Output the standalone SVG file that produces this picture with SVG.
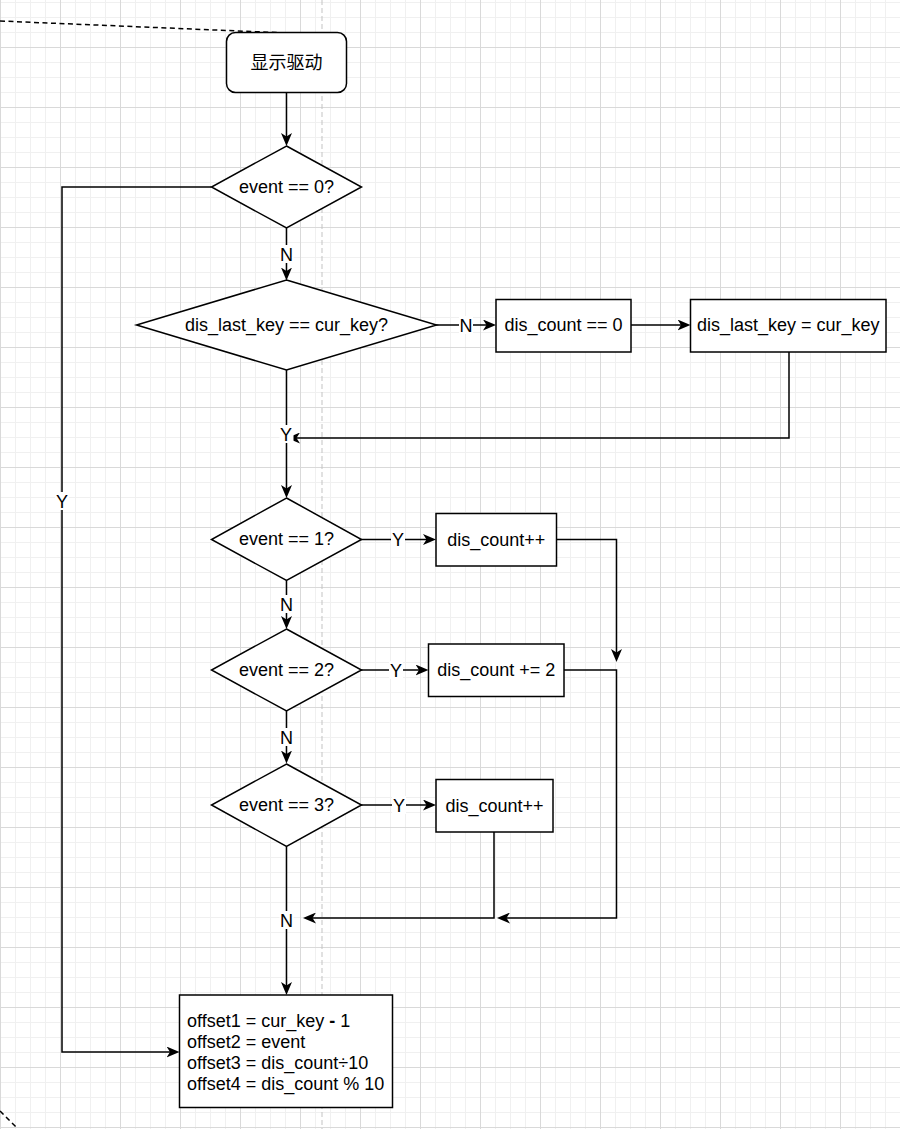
<svg xmlns="http://www.w3.org/2000/svg" width="900" height="1129" viewBox="0 0 900 1129">
<style>
.t{font-family:"Liberation Sans",Arial,"Noto Sans CJK SC",sans-serif;font-size:18px;fill:#000;}
.c{text-anchor:middle;}
.shape{fill:#fff;stroke:#000;stroke-width:1.5;}
.edge{fill:none;stroke:#000;stroke-width:1.5;}
.lbg{fill:#fff;}
</style>
<defs>
<pattern id="grid" x="0" y="-13" width="60" height="60" patternUnits="userSpaceOnUse">
<rect x="0" y="0" width="60" height="60" fill="#fff"/>
<g fill="#f0f0f0">
<rect x="15" y="0" width="1" height="60"/><rect x="30" y="0" width="1" height="60"/><rect x="45" y="0" width="1" height="60"/>
<rect x="0" y="15" width="60" height="1"/><rect x="0" y="30" width="60" height="1"/><rect x="0" y="45" width="60" height="1"/>
</g>
<g fill="#d9d9d9">
<rect x="0" y="0" width="1" height="60"/><rect x="0" y="0" width="60" height="1"/>
</g>
</pattern>
<marker id="arr" viewBox="0 0 13 11" markerWidth="13" markerHeight="11" refX="9" refY="5.5" orient="auto" markerUnits="userSpaceOnUse">
<path d="M0,0 L13,5.5 L0,11 L3.5,5.5 Z" fill="#000"/>
</marker>
</defs>
<rect x="0" y="0" width="900" height="1129" fill="url(#grid)"/>
<line x1="322" y1="0" x2="322" y2="1129" stroke="#c3c3c3" stroke-width="1" stroke-dasharray="5 3"/>
<line x1="0" y1="21" x2="287" y2="33" stroke="#000" stroke-width="1.5" stroke-dasharray="5 3.5"/>
<line x1="0" y1="1111" x2="18" y2="1129" stroke="#000" stroke-width="1.5" stroke-dasharray="5 3.5"/>

<g id="connectors">
<path class="edge" d="M286.5,92.5 V142" marker-end="url(#arr)"/>
<path class="edge" d="M286.5,228 V276.5" marker-end="url(#arr)"/>
<path class="edge" d="M436,325 H492" marker-end="url(#arr)"/>
<path class="edge" d="M631,325 H686.5" marker-end="url(#arr)"/>
<path class="edge" d="M789,352 V438 H291" marker-end="url(#arr)"/>
<path class="edge" d="M286.5,370 V494" marker-end="url(#arr)"/>
<path class="edge" d="M361,539.5 H432" marker-end="url(#arr)"/>
<path class="edge" d="M556.5,539.5 H616.5 V658" marker-end="url(#arr)"/>
<path class="edge" d="M286.5,580.5 V625" marker-end="url(#arr)"/>
<path class="edge" d="M361,670 H424.5" marker-end="url(#arr)"/>
<path class="edge" d="M564,670 H616.5 V918 H501" marker-end="url(#arr)"/>
<path class="edge" d="M286.5,711 V759.5" marker-end="url(#arr)"/>
<path class="edge" d="M361,805 H432" marker-end="url(#arr)"/>
<path class="edge" d="M494,831.5 V918 H307" marker-end="url(#arr)"/>
<path class="edge" d="M286.5,846.5 V991" marker-end="url(#arr)"/>
<path class="edge" d="M211.5,187 H62 V1052 H175.5" marker-end="url(#arr)"/>
<g id="edge-labels">
<rect class="lbg" x="279.5" y="245" width="14" height="18"/><text class="t c" x="286.5" y="260.5">N</text>
<rect class="lbg" x="459" y="316" width="14" height="18"/><text class="t c" x="466" y="331.5">N</text>
<rect class="lbg" x="279.5" y="425" width="14" height="18"/><text class="t c" x="286" y="440.5">Y</text>
<rect class="lbg" x="391" y="530.5" width="14" height="18"/><text class="t c" x="398" y="546">Y</text>
<rect class="lbg" x="279.5" y="595" width="14" height="18"/><text class="t c" x="286.5" y="610.5">N</text>
<rect class="lbg" x="389" y="661" width="14" height="18"/><text class="t c" x="396" y="676.5">Y</text>
<rect class="lbg" x="279.5" y="728" width="14" height="18"/><text class="t c" x="286.5" y="743.5">N</text>
<rect class="lbg" x="392" y="796" width="14" height="18"/><text class="t c" x="399" y="811.5">Y</text>
<rect class="lbg" x="279.5" y="911" width="14" height="18"/><text class="t c" x="286.5" y="926.5">N</text>
<rect class="lbg" x="55" y="492" width="14" height="18"/><text class="t c" x="62" y="507.5">Y</text>
</g>
</g>

<g id="start">
<rect class="shape" x="226.5" y="32.5" width="120" height="60" rx="9"/>
<text class="t c" x="286.5" y="68.5">显示驱动</text>
</g>
<g id="d-event0">
<polygon class="shape" points="286.5,146 361.5,187 286.5,228 211.5,187"/>
<text class="t c" x="286.5" y="192.5">event == 0?</text>
</g>
<g id="d-lastkey">
<polygon class="shape" points="286.5,280 436.5,325 286.5,370 136.5,325"/>
<text class="t c" x="286.5" y="330.5">dis_last_key == cur_key?</text>
</g>
<g id="b-count0">
<rect class="shape" x="496" y="299.5" width="135" height="52.5"/>
<text class="t c" x="563.5" y="331">dis_count == 0</text>
</g>
<g id="b-setkey">
<rect class="shape" x="690.5" y="299.5" width="195.5" height="52.5"/>
<text class="t c" x="788.3" y="331">dis_last_key = cur_key</text>
</g>
<g id="d-event1">
<polygon class="shape" points="286.5,498 361.5,539.5 286.5,580.5 211.5,539.5"/>
<text class="t c" x="286.5" y="545">event == 1?</text>
</g>
<g id="b-inc1">
<rect class="shape" x="436" y="513.5" width="120.5" height="52.5"/>
<text class="t c" x="496.2" y="545.5">dis_count++</text>
</g>
<g id="d-event2">
<polygon class="shape" points="286.5,629 361.5,670 286.5,711 211.5,670"/>
<text class="t c" x="286.5" y="675.5">event == 2?</text>
</g>
<g id="b-add2">
<rect class="shape" x="428.5" y="644" width="135.5" height="52.5"/>
<text class="t c" x="496.2" y="676">dis_count += 2</text>
</g>
<g id="d-event3">
<polygon class="shape" points="286.5,764 361.5,805 286.5,846.5 211.5,805"/>
<text class="t c" x="286.5" y="810.5">event == 3?</text>
</g>
<g id="b-inc3">
<rect class="shape" x="436" y="779.5" width="117" height="52.5"/>
<text class="t c" x="494.5" y="811.5">dis_count++</text>
</g>
<g id="b-offset">
<rect class="shape" x="179.5" y="995" width="213" height="112.5"/>
<text class="t" x="187" y="1026.5">offset1 = cur_key <tspan font-weight="bold">-</tspan> 1</text>
<text class="t" x="187" y="1047.5">offset2 = event</text>
<text class="t" x="187" y="1068.5">offset3 = dis_count÷10</text>
<text class="t" x="187" y="1089.5">offset4 = dis_count % 10</text>
</g>
</svg>
